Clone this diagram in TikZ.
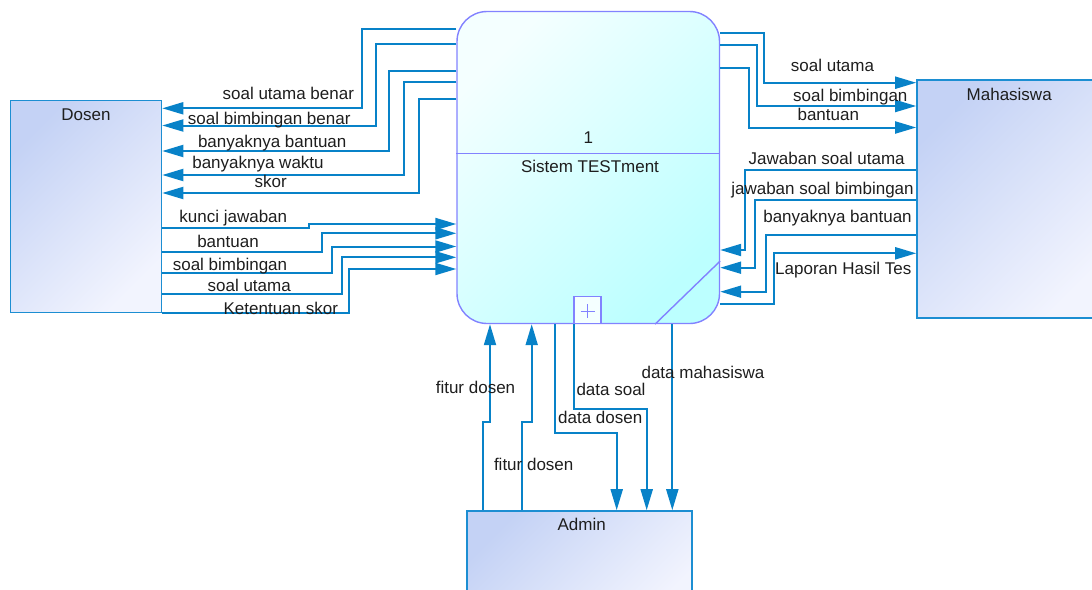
\documentclass[tikz,border=0pt]{standalone}
\usepackage{fontspec}
\setmainfont{Liberation Sans}
\usetikzlibrary{arrows.meta,calc,backgrounds}
\definecolor{flowblue}{RGB}{8,130,200}
\definecolor{entityline}{RGB}{28,142,210}
\definecolor{entitytop}{RGB}{196,210,245}
\definecolor{entitybottom}{RGB}{242,244,254}
\definecolor{procline}{RGB}{130,130,255}
\definecolor{proctop}{RGB}{244,255,255}
\definecolor{procbottom}{RGB}{188,255,255}
\definecolor{labeltext}{RGB}{30,30,30}
\tikzset{
  flow/.style={-{Triangle[length=21pt,width=12pt]}, line width=2pt, draw=flowblue},
  entity/.style={draw=entityline, line width=1.6pt, shading=axis,
    top color=entitytop, bottom color=entitybottom, shading angle=45,
    inner sep=0pt},
  process/.style={draw=procline, line width=1.4pt, rounded corners=30pt,
    shading=axis, top color=proctop, bottom color=procbottom, shading angle=45,
    minimum width=262.5pt, minimum height=312pt, inner sep=0pt},
  plusbox/.style={draw=procline, line width=1.4pt, fill=proctop,
    minimum size=27pt, inner sep=0pt},
  procrule/.style={draw=procline, line width=1.4pt},
  boxtitle/.style={text=labeltext, anchor=base, inner sep=0pt},
  flowlabel/.style={text=labeltext, anchor=base, inner sep=0pt}
}

\begin{document}
\begin{tikzpicture}[x=1pt, y=-1pt, font=\fontsize{17}{20}\selectfont]
  \clip (0,0) rectangle (1092,589);

  % External entities and the process.
  \node[entity, minimum width=151pt, minimum height=212pt] (dosen) at (86,206.6) {};
  \node[entity, minimum width=193pt, minimum height=238pt] (mhs) at (1013.5,199) {};
  \node[entity, minimum width=225pt, minimum height=109pt] (admin) at (579.5,565.5) {};
  \node[process] (proc) at (588.25,167.5) {};
  \node[boxtitle] (dosenname) at (86,120.7) {Dosen};
  \node[boxtitle] (mhsname) at (1009.2,100.7) {Mahasiswa};
  \node[boxtitle] (adminname) at (581.7,530) {Admin};
  \node[boxtitle] (procid) at (588.3,143.3) {1};
  \node[boxtitle] (procname) at (590,172.7) {Sistem TESTment};
  \draw[procrule] (proc.west |- 0,153.3) -- (proc.east |- 0,153.3);
  \draw[procrule] (proc.east |- 0,261) -- (proc.south -| 655,0);
  \node[plusbox] (plus) at (587.5,309.8) {};
  \draw[procrule, line width=1pt] ($(plus.center)+(-7,1.5)$) -- ++(14,0);
  \draw[procrule, line width=1pt] ($(plus.center)+(0,-5.5)$) -- ++(0,14);

  % Sistem -> Dosen
  \draw[flow] (proc.west |- 0,29.3) -| (362.3,108.3) -- (dosen.east |- 0,108.3);
  \draw[flow] (proc.west |- 0,44) -| (376,125.5) -- (dosen.east |- 0,125.5);
  \draw[flow] (proc.west |- 0,71) -| (389,151) -- (dosen.east |- 0,151);
  \draw[flow] (proc.west |- 0,82.3) -| (404.3,175) -- (dosen.east |- 0,175);
  \draw[flow] (proc.west |- 0,99.3) -| (419,193) -- (dosen.east |- 0,193);

  % Dosen -> Sistem
  \draw[flow] (dosen.east |- 0,228.3) -| (309,224) -- (proc.west |- 0,224);
  \draw[flow] (dosen.east |- 0,252) -| (322.3,233.3) -- (proc.west |- 0,233.3);
  \draw[flow] (dosen.east |- 0,273.3) -| (332.3,246.5) -- (proc.west |- 0,246.5);
  \draw[flow] (dosen.east |- 0,294) -| (342.3,257.3) -- (proc.west |- 0,257.3);
  \draw[flow] (dosen.east |- 0,312.5) -| (349,269) -- (proc.west |- 0,269);

  % Sistem <-> Mahasiswa
  \draw[flow] (proc.east |- 0,32.7) -| (764,82.7) -- (mhs.west |- 0,82.7);
  \draw[flow] (proc.east |- 0,45) -| (757.3,106) -- (mhs.west |- 0,106);
  \draw[flow] (proc.east |- 0,67.7) -| (749.3,127.5) -- (mhs.west |- 0,127.5);
  \draw[flow] (mhs.west |- 0,170) -| (745,250) -- (proc.east |- 0,250);
  \draw[flow] (mhs.west |- 0,200) -| (755,267.7) -- (proc.east |- 0,267.7);
  \draw[flow] (mhs.west |- 0,235) -| (765.7,291.7) -- (proc.east |- 0,291.7);
  \draw[flow] (proc.east |- 0,304) -| (774,253.3) -- (mhs.west |- 0,253.3);

  % Admin <-> Sistem
  \draw[flow] (admin.north -| 482.7,0) |- (490,421.7) -- (proc.south -| 490,0);
  \draw[flow] (admin.north -| 521.7,0) |- (531.7,421.7) -- (proc.south -| 531.7,0);
  \draw[flow] (proc.south -| 555,0) |- (616.7,433.3) -- (admin.north -| 616.7,0);
  \draw[flow] (proc.south -| 573.5,0) |- (646.7,409.3) -- (admin.north -| 646.7,0);
  \draw[flow] (proc.south -| 672.3,0) -- (admin.north -| 672.3,0);

  % Flow labels
  \node[flowlabel] (l1) at (288.3,99.3) {soal utama benar};
  \node[flowlabel] (l2) at (269.2,124) {soal bimbingan benar};
  \node[flowlabel] (l3) at (272.2,147.3) {banyaknya bantuan};
  \node[flowlabel] (l4) at (258,168.3) {banyaknya waktu};
  \node[flowlabel] (l5) at (270.8,187.7) {skor};
  \node[flowlabel] (l6) at (233.3,222.7) {kunci jawaban};
  \node[flowlabel] (l7) at (228,247.7) {bantuan};
  \node[flowlabel] (l8) at (230,270) {soal bimbingan};
  \node[flowlabel] (l9) at (249.2,291.7) {soal utama};
  \node[flowlabel] (l10) at (280.8,314) {Ketentuan skor};
  \node[flowlabel] (r1) at (832.5,71.7) {soal utama};
  \node[flowlabel] (r2) at (850.3,101) {soal bimbingan};
  \node[flowlabel] (r3) at (828.3,120) {bantuan};
  \node[flowlabel] (r4) at (826.7,164) {Jawaban soal utama};
  \node[flowlabel] (r5) at (822.5,194) {jawaban soal bimbingan};
  \node[flowlabel] (r6) at (837.5,222.7) {banyaknya bantuan};
  \begin{scope}[on background layer]
    \node[flowlabel, anchor=base west] (r7) at (775,274.3) {Laporan Hasil Tes};
  \end{scope}
  \node[flowlabel] (b1) at (475.5,393.3) {fitur dosen};
  \node[flowlabel] (b2) at (533.7,470) {fitur dosen};
  \node[flowlabel] (b3) at (600.2,423.3) {data dosen};
  \node[flowlabel] (b4) at (611,395.7) {data soal};
  \node[flowlabel] (b5) at (703,378.7) {data mahasiswa};
\end{tikzpicture}
\end{document}
